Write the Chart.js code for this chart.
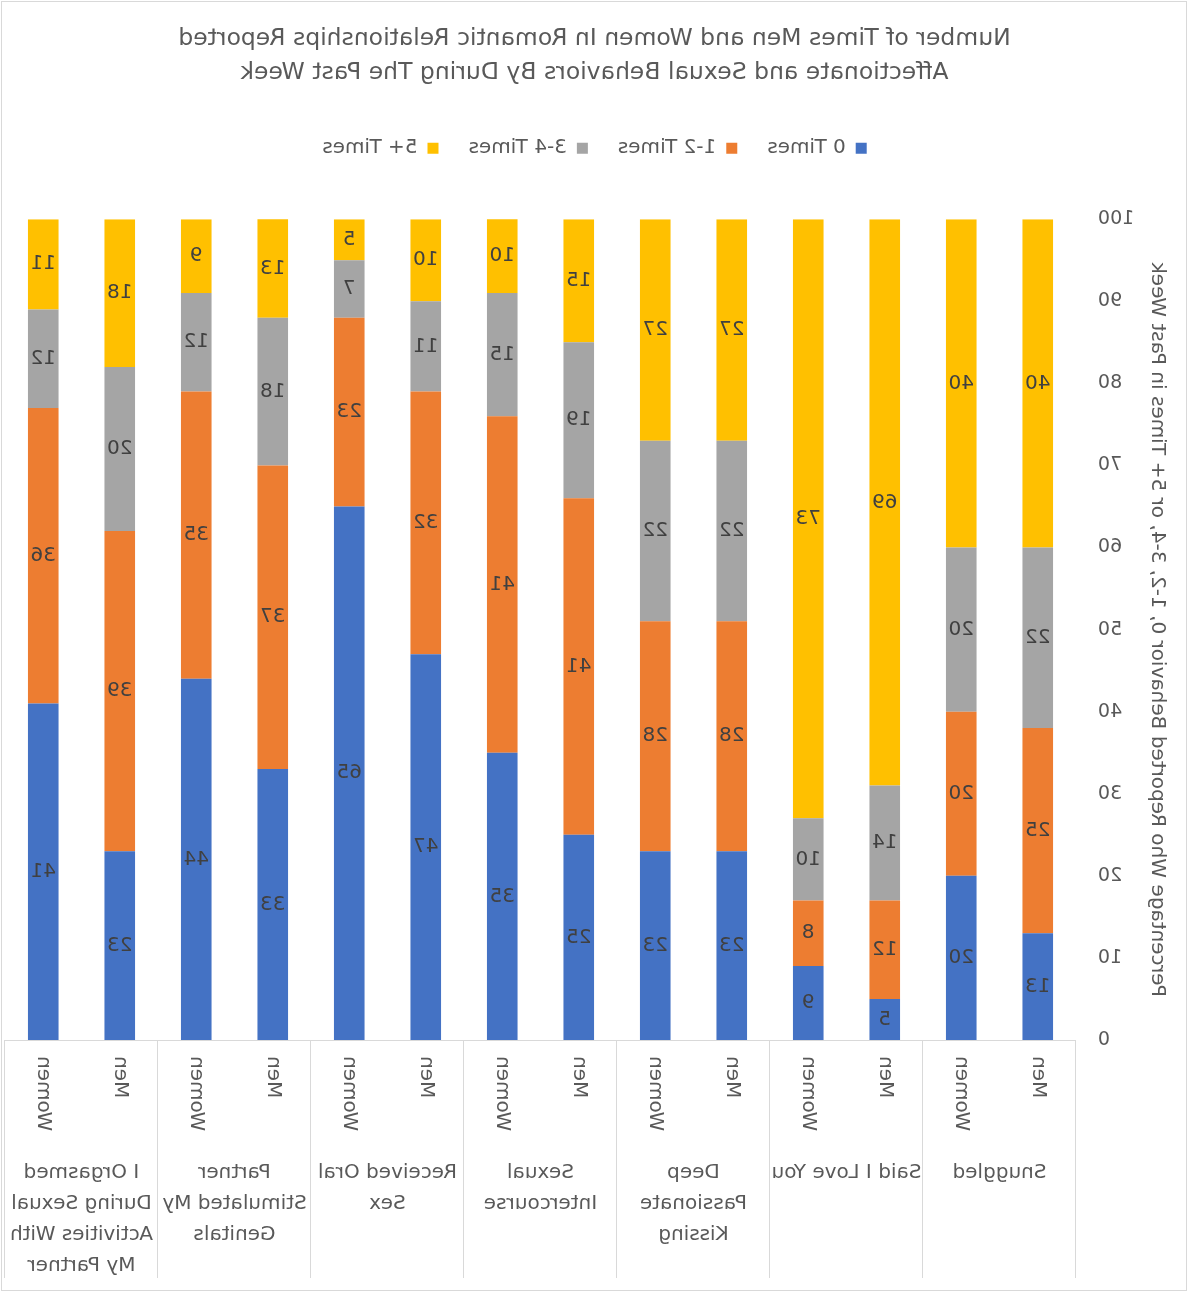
<!DOCTYPE html>
<html>
<head>
<meta charset="utf-8">
<title>Affectionate and Sexual Behaviors During The Past Week</title>
<script src="https://cdn.jsdelivr.net/npm/chart.js@4.4.1/dist/chart.umd.min.js"></script>
<style>
  html, body { margin: 0; padding: 0; background: #fff; }
  /* the reference picture is a mirror image, so the whole canvas is flipped */
  #chart { display: block; transform: scaleX(-1); }
</style>
</head>
<body>
<canvas id="chart" width="1188" height="1292"></canvas>
<script>
// behaviour groups, each one written as the lines of its axis label
const groups = [
    ["Snuggled"],
    ["Said I Love You"],
    ["Deep", "Passionate", "Kissing"],
    ["Sexual", "Intercourse"],
    ["Received Oral", "Sex"],
    ["Partner", "Stimulated My", "Genitals"],
    ["I Orgasmed", "During Sexual", "Activities With", "My Partner"]
];
const genders = ["Men", "Women"];

// percentages, in order Men/Women for each group
const zeroTimes      = [13, 20,  5,  9, 23, 23, 25, 35, 47, 65, 33, 44, 23, 41];
const oneTwoTimes    = [25, 20, 12,  8, 28, 28, 41, 41, 32, 23, 37, 35, 39, 36];
const threeFourTimes = [22, 20, 14, 10, 22, 22, 19, 15, 11,  7, 18, 12, 20, 12];
const fivePlusTimes  = [40, 40, 69, 73, 27, 27, 15, 10, 10,  5, 13,  9, 18, 11];

const seriesNames  = ["0 Times", "1-2 Times", "3-4 Times", "5+ Times"];
const seriesColors = ["#4472C4", "#ED7D31", "#A5A5A5", "#FFC000"];

const yMin = 0;
const yMax = 100;
const yStep = 10;

const titleLines = [
    "Number of Times Men and Women In Romantic Relationships Reported",
    "Affectionate and Sexual Behaviors By During The Past Week"
];
const yTitle = "Percentage Who Reported Behavior 0, 1-2, 3-4, or 5+ Times in Past Week";

const FONT = "'DejaVu Sans', 'Liberation Sans', sans-serif";
const TEXT = "#595959";

/** one label per bar: Men, Women, Men, Women ... */
const labels = groups.flatMap(() => genders);

/** white background and thin frame round the chart */
const frame = {
    id: "frame",
    beforeDraw(chart) {
        const ctx = chart.ctx;
        ctx.save();
        ctx.fillStyle = "#fff";
        ctx.fillRect(0, 0, chart.width, chart.height);
        ctx.strokeStyle = "#d9d9d9";
        ctx.lineWidth = 1;
        ctx.strokeRect(1.5, 1.5, chart.width - 3, chart.height - 3);
        ctx.restore();
    }
};

/** pushes the plot down below the legend */
const legendSpace = {
    id: "legendSpace",
    beforeInit(chart) {
        const fit = chart.legend.fit;
        chart.legend.fit = function () {
            fit.bind(chart.legend)();
            this.height = 111;
        };
    }
};

/** value written in the middle of every segment */
const barValues = {
    id: "barValues",
    afterDatasetsDraw(chart) {
        const ctx = chart.ctx;
        const top = chart.chartArea.top;
        ctx.save();
        ctx.font = "20px " + FONT;
        ctx.fillStyle = "#404040";
        ctx.textAlign = "center";
        ctx.textBaseline = "middle";
        chart.data.datasets.forEach((ds, i) => {
            chart.getDatasetMeta(i).data.forEach((bar, j) => {
                const y1 = Math.max(bar.y, top);
                ctx.fillText(ds.data[j], bar.x, (y1 + bar.base) / 2);
            });
        });
        ctx.restore();
    }
};

/** second level of the category axis: group names and dividers */
const groupAxis = {
    id: "groupAxis",
    afterDraw(chart) {
        const ctx = chart.ctx;
        const { left, right, bottom } = chart.chartArea;
        const step = (right - left) / groups.length;
        const lineEnd = chart.height - 14;
        ctx.save();
        ctx.strokeStyle = "#d9d9d9";
        ctx.lineWidth = 1;
        for (let i = 0; i <= groups.length; i++) {
            const x = Math.round(left + i * step) + 0.5;
            ctx.beginPath();
            ctx.moveTo(x, bottom);
            ctx.lineTo(x, lineEnd);
            ctx.stroke();
        }
        ctx.font = "20px " + FONT;
        ctx.fillStyle = TEXT;
        ctx.textAlign = "center";
        ctx.textBaseline = "middle";
        groups.forEach((lines, i) => {
            lines.forEach((t, k) => {
                ctx.fillText(t, left + (i + 0.5) * step, bottom + 133 + k * 31);
            });
        });
        ctx.restore();
    }
};

new Chart(document.getElementById("chart"), {
    type: "bar",
    data: {
        labels: labels,
        datasets: [zeroTimes, oneTwoTimes, threeFourTimes, fivePlusTimes].map((d, i) => ({
            label: seriesNames[i],
            data: d,
            backgroundColor: seriesColors[i],
            borderWidth: 0,
            categoryPercentage: 0.8,
            barPercentage: 0.5
        }))
    },
    options: {
        responsive: false,
        animation: false,
        devicePixelRatio: 1,
        events: [],
        layout: { padding: { left: 4, right: 5, top: 0, bottom: 0 } },
        plugins: {
            title: {
                display: true,
                text: titleLines,
                color: TEXT,
                font: { family: FONT, size: 23.5, weight: "normal", lineHeight: 1.45 },
                padding: { top: 22, bottom: 18 }
            },
            legend: {
                position: "top",
                labels: {
                    color: TEXT,
                    font: { family: FONT, size: 20 },
                    boxWidth: 11,
                    boxHeight: 11,
                    padding: 30
                }
            },
            tooltip: { enabled: false }
        },
        scales: {
            x: {
                stacked: true,
                grid: { display: false, drawTicks: false },
                border: { display: true, color: "#d9d9d9", width: 1 },
                ticks: {
                    color: TEXT,
                    font: { family: FONT, size: 20 },
                    minRotation: 90,
                    maxRotation: 90,
                    autoSkip: false,
                    padding: 16
                },
                afterFit(scale) { scale.height = 252; }
            },
            y: {
                stacked: true,
                min: yMin,
                max: yMax,
                grid: { display: false, drawTicks: false },
                border: { display: false },
                ticks: {
                    stepSize: yStep,
                    color: TEXT,
                    font: { family: FONT, size: 19 },
                    padding: 22
                },
                title: {
                    display: true,
                    text: yTitle,
                    color: TEXT,
                    font: { family: FONT, size: 20 },
                    padding: { top: 15, bottom: 0 }
                },
                afterFit(scale) { scale.width = 108; }
            }
        }
    },
    plugins: [frame, legendSpace, barValues, groupAxis]
});
</script>
</body>
</html>
